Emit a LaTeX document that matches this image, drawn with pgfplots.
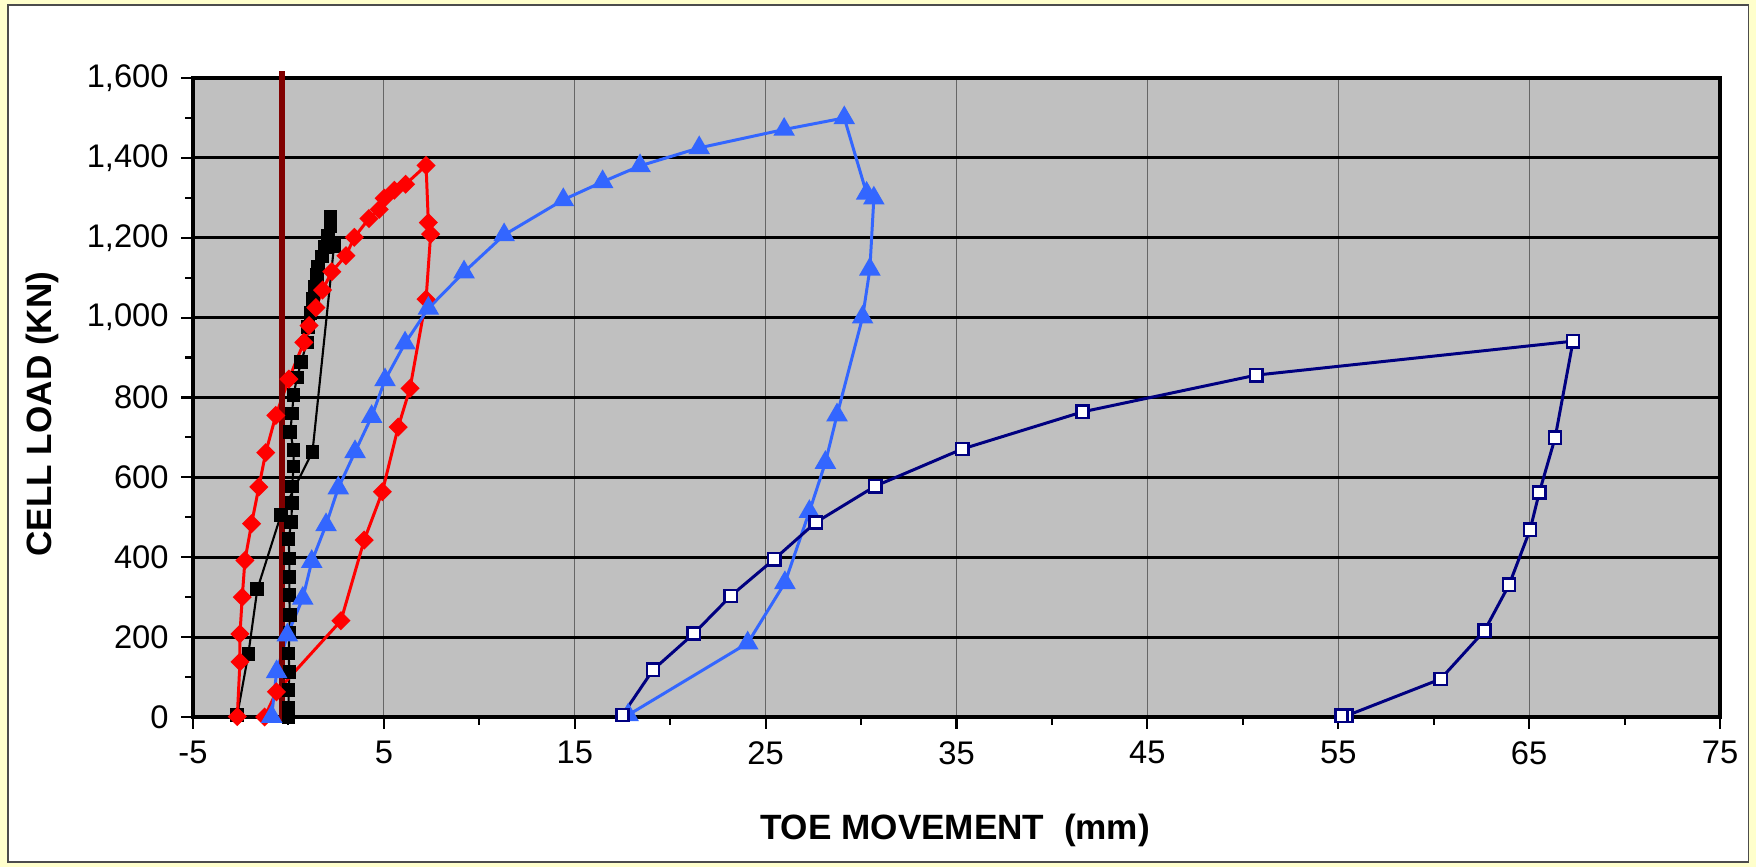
\documentclass[border=0pt]{standalone}
\usepackage{pgfplots}
\pgfplotsset{compat=1.18}
\usepackage{fontspec}
\setmainfont{Liberation Sans}
\definecolor{plotgray}{HTML}{C0C0C0}
\definecolor{cream}{HTML}{FFFFCC}
\definecolor{darkred}{HTML}{800000}
\definecolor{triblue}{HTML}{3366FF}
\definecolor{navy}{HTML}{000080}

\begin{document}
\begin{tikzpicture}
\fill[cream] (0,0) rectangle (175.6mm,86.7mm);
\filldraw[fill=white, draw=black!70, line width=0.3pt] (0.8mm,0.5mm) rectangle (174.8mm,86.2mm);
\useasboundingbox (0,0) rectangle (175.6mm,86.7mm);
\begin{axis}[
  at={(19.3mm,15.0mm)}, anchor=south west,
  scale only axis, width=152.7mm, height=63.9mm,
  xmin=-5, xmax=75, ymin=0, ymax=1600,
  xtick={-5,5,...,75}, ytick={0,200,...,1600},
  minor x tick num=1, minor y tick num=1,
  tick pos=left, tick align=outside,
  major tick length=1.2mm, minor tick length=0.8mm,
  tick style={black, line width=0.6pt},
  axis line style={black, line width=0.9pt},
  axis background/.style={fill=plotgray},
  xmajorgrids, ymajorgrids,
  x grid style={black!60, line width=0.35pt},
  y grid style={black, line width=0.8pt},
  scaled y ticks=false,
  /pgf/number format/assume math mode=true,
  /pgf/number format/1000 sep={,},
  ticklabel style={font=\fontsize{9.3}{11}\selectfont},
  xlabel={TOE MOVEMENT\ \ (mm)},
  ylabel={CELL LOAD (KN)},
  xlabel style={at={(axis description cs:0.499,-0.178)}, anchor=center, font=\bfseries\fontsize{10}{12}\selectfont},
  ylabel style={at={(axis description cs:-0.0989,0.474)}, anchor=center, font=\bfseries\fontsize{10}{12}\selectfont},
  clip=false,
]
% black squares
\addplot[black, line width=0.6pt, mark=square*, mark size=1.65pt, mark options={solid}] coordinates {
(0.01,0)(0.01,22)(0.01,68)(0.05,113)(0.01,159)(0.05,210)(0.07,255)(0.05,305)(0.05,351)(0.05,397)
(0.01,445)(0.15,489)(0.19,535)(0.19,577)(0.27,627)(0.27,668)(0.10,714)(0.19,760)(0.27,806)(0.45,850)
(0.67,888)(0.96,938)(1.04,977)(1.16,1012)(1.30,1046)(1.39,1077)(1.48,1107)(1.56,1128)(1.74,1153)
(1.91,1176)(2.06,1205)(2.21,1228)(2.21,1253)(2.39,1180)(1.26,664)(-0.40,505)(-1.63,320)(-2.10,158)(-2.68,5)
};
% red diamonds
\addplot[red, line width=0.85pt, mark=square*, mark size=1.5pt, mark options={solid, rotate=45}] coordinates {
(-2.68,1)(-2.54,138)(-2.54,208)(-2.42,300)(-2.28,392)(-1.93,484)(-1.55,576)(-1.19,662)(-0.66,755)
(0.02,846)(0.81,938)(1.08,980)(1.44,1025)(1.79,1069)(2.27,1115)(3.01,1155)(3.45,1201)(4.22,1248)
(4.76,1271)(5.02,1299)(5.55,1319)(6.14,1334)(7.21,1381)(7.33,1238)(7.45,1209)(7.21,1046)(6.37,823)
(5.75,726)(4.92,564)(3.97,443)(2.75,241)(-0.63,63)(-1.25,0)
};
% blue triangles
\addplot[triblue, line width=0.85pt, mark=triangle*, mark size=2.7pt, mark options={solid}] coordinates {
(-0.88,1)(-0.62,113)(-0.06,205)(0.75,297)(1.22,389)(1.97,481)(2.61,573)(3.49,664)(4.36,752)(5.06,844)
(6.11,936)(7.33,1023)(9.2,1114)(11.3,1207)(14.4,1295)(16.46,1340)(18.42,1380)(21.52,1425)(25.97,1471)
(29.12,1500)(30.29,1311)(30.67,1299)(30.46,1121)(30.08,1001)(28.74,756)(28.13,637)(27.29,514)
(26.01,336)(24.06,185)(17.8,5)
};
% navy open squares
\addplot[navy, line width=0.85pt, mark=square*, mark size=1.75pt, mark options={solid, fill=white, draw=navy, line width=0.7pt}] coordinates {
(17.5,5)(19.1,118)(21.24,209)(23.17,303)(25.45,395)(27.62,487)(30.74,578)(35.3,671)(41.6,764)
(50.7,856)(67.3,941)(66.36,699)(65.53,562)(65.05,469)(63.95,331)(62.66,216)(60.36,95)(55.43,3)(55.17,3)
};
% reference line
\draw[darkred, line width=1.6pt] (axis cs:-0.35,-12) -- (axis cs:-0.35,1618);
\end{axis}
\end{tikzpicture}
\end{document}
